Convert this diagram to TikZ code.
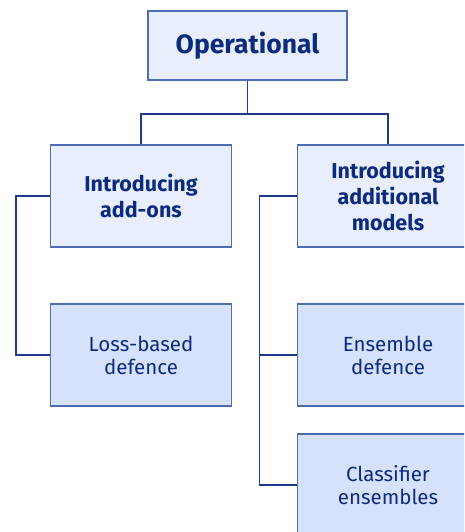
\documentclass[tikz,border=0pt]{standalone}
\usepackage{fontspec}
\setmainfont{Fira Sans}
\usetikzlibrary{calc}
\definecolor{boxline}{HTML}{4F6DB3}
\definecolor{wire}{HTML}{1E3A8A}
\definecolor{ink}{HTML}{0C2A7E}
\definecolor{headfill}{HTML}{E8EEFC}
\definecolor{leaffill}{HTML}{D6E2FB}
\tikzset{
  headbox/.style={draw=boxline,line width=1.2pt,fill=headfill,text=ink,
    minimum width=181pt,minimum height=102pt,align=center,inner sep=0pt,
    font=\fontsize{21.5}{26}\selectfont\bfseries},
  leafbox/.style={headbox,fill=leaffill,font=\fontsize{20.5}{23}\selectfont},
  rootbox/.style={headbox,minimum width=199pt,minimum height=69pt,
    font=\fontsize{26.5}{30}\selectfont\bfseries},
  wirestyle/.style={draw=wire,line width=1.2pt}
}
\begin{document}
\begin{tikzpicture}[x=1pt,y=-1pt]
\clip (0,0) rectangle (464,532);
% Top of the tree
\node[rootbox] (root) at (247.5,45.5) {Operational};
% Second level
\node[headbox] (addons) at (141,196) {Introducing\\add-ons};
\node[headbox] (models) at (388,196) {Introducing\\additional\\models};
% Leaves
\node[leafbox] (lossdef) at (141,355) {Loss-based\\defence};
\node[leafbox] (ensdef) at (388,355) {Ensemble\\defence};
\node[leafbox] (clfens) at (388,485) {Classifier\\ensembles};
% Split point below the root
\coordinate (bus) at (247.5,114);
\draw[wirestyle] (root.south) -- (bus) -| (addons.north);
\draw[wirestyle] (bus) -| (models.north);
% Branches down the left side of each group
\coordinate (lefttrunk) at (16,196);
\coordinate (righttrunk) at (259.5,196);
\draw[wirestyle] (addons.west) -- (lefttrunk) |- (lossdef.west);
\draw[wirestyle] (models.west) -- (righttrunk) |- (ensdef.west);
\draw[wirestyle] (righttrunk) |- (clfens.west);
\end{tikzpicture}
\end{document}
